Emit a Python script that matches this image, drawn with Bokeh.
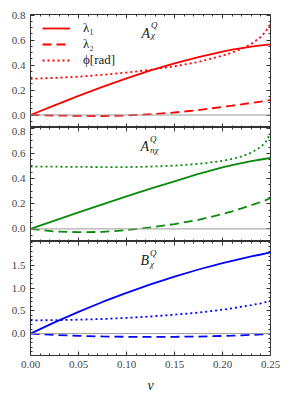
from bokeh.plotting import figure
from bokeh.layouts import column
from bokeh.models import Range1d, LinearAxis, FixedTicker, Span, Label, Legend, LegendItem
from bokeh.embed import file_html
from bokeh.resources import INLINE

# ---------------- data ----------------
nu = [0.0, 0.025, 0.05, 0.075, 0.1, 0.125, 0.15, 0.175, 0.2, 0.21, 0.22, 0.23, 0.24, 0.245, 0.25]

a_l1 = [0.0, 0.077, 0.153, 0.225, 0.293, 0.357, 0.413, 0.463, 0.508, 0.523, 0.536, 0.548, 0.557, 0.561, 0.565]
a_l2 = [0.0, -0.004, -0.007, -0.008, -0.004, 0.006, 0.02, 0.04, 0.065, 0.075, 0.086, 0.097, 0.108, 0.114, 0.12]
a_phi = [0.29, 0.297, 0.307, 0.322, 0.34, 0.362, 0.39, 0.425, 0.475, 0.50, 0.53, 0.57, 0.625, 0.67, 0.73]

an_l1 = [0.0, 0.066, 0.131, 0.195, 0.258, 0.32, 0.378, 0.436, 0.488, 0.506, 0.523, 0.538, 0.551, 0.557, 0.563]
an_l2 = [0.0, -0.02, -0.026, -0.024, -0.01, 0.012, 0.038, 0.072, 0.118, 0.14, 0.163, 0.188, 0.214, 0.228, 0.245]
an_phi = [0.495, 0.494, 0.492, 0.491, 0.491, 0.494, 0.502, 0.516, 0.54, 0.555, 0.575, 0.605, 0.65, 0.69, 0.76]

b_l1 = [0.0, 0.246, 0.478, 0.694, 0.894, 1.08, 1.25, 1.406, 1.546, 1.597, 1.646, 1.692, 1.735, 1.757, 1.78]
b_l2 = [0.0, -0.03, -0.05, -0.062, -0.07, -0.072, -0.07, -0.064, -0.052, -0.045, -0.037, -0.028, -0.017, -0.011, -0.005]
b_phi = [0.29, 0.295, 0.305, 0.32, 0.345, 0.375, 0.415, 0.46, 0.525, 0.555, 0.59, 0.625, 0.665, 0.69, 0.72]

x_ticks = [0.0, 0.05, 0.10, 0.15, 0.20, 0.25]
x_tick_labels = ["0.00", "0.05", "0.10", "0.15", "0.20", "0.25"]
x_minor = [i / 100 for i in range(0, 26)]

y_ticks_a = [0.0, 0.2, 0.4, 0.6, 0.8]
y_labels_a = ["0.0", "0.2", "0.4", "0.6", "0.8"]
y_minor_a = [-0.1, -0.05, 0.0, 0.05, 0.1, 0.15, 0.2, 0.25, 0.3, 0.35, 0.4, 0.45, 0.5, 0.55, 0.6, 0.65, 0.7, 0.75, 0.8]

y_ticks_b = [0.0, 0.5, 1.0, 1.5]
y_labels_b = ["0.0", "0.5", "1.0", "1.5"]
y_minor_b = [-0.4, -0.3, -0.2, -0.1, 0.0, 0.1, 0.2, 0.3, 0.4, 0.5, 0.6, 0.7, 0.8, 0.9, 1.0,
             1.1, 1.2, 1.3, 1.4, 1.5, 1.6, 1.7, 1.8, 1.9, 2.0]

RED, GREEN, BLUE = "#ff0000", "#0a8a0a", "#0000ff"
SERIF = "Liberation Serif"
TICK_COL = "#333333"
LAB_COL = "#444444"


def style_axis(ax, ticks, minor, labels=None, show=True):
    ax.ticker = FixedTicker(ticks=ticks, minor_ticks=minor)
    ax.major_tick_in = 4
    ax.major_tick_out = 0
    ax.minor_tick_in = 2
    ax.minor_tick_out = 0
    ax.axis_line_color = None
    ax.major_tick_line_color = TICK_COL
    ax.minor_tick_line_color = TICK_COL
    ax.major_tick_line_width = 1
    ax.minor_tick_line_width = 1
    if show:
        ax.major_label_text_font = SERIF
        ax.major_label_text_font_size = "11px"
        ax.major_label_text_color = LAB_COL
        ax.major_label_standoff = 5
        if labels is not None:
            ax.major_label_overrides = {t: l for t, l in zip(ticks, labels)}
    else:
        ax.major_label_text_font_size = "0px"
        ax.major_label_standoff = 0


def make_panel(frame_h, y0, y1, yt, yl, ym, top_b, bot_b, last):
    p = figure(frame_width=240, frame_height=frame_h,
               x_range=Range1d(0, 0.25), y_range=Range1d(y0, y1),
               output_backend="svg", toolbar_location=None,
               min_border_left=30, min_border_right=18,
               min_border_top=top_b, min_border_bottom=bot_b)
    p.grid.visible = False
    p.outline_line_color = "#333333"
    p.outline_line_width = 1
    p.background_fill_color = "white"
    p.border_fill_color = "white"
    style_axis(p.yaxis[0], yt, ym, yl, True)
    style_axis(p.xaxis[0], x_ticks, x_minor, x_tick_labels, last)
    if last:
        p.xaxis[0].axis_label = "ν"
        p.xaxis[0].axis_label_text_font = SERIF
        p.xaxis[0].axis_label_text_font_style = "italic"
        p.xaxis[0].axis_label_text_font_size = "14px"
        p.xaxis[0].axis_label_text_color = "#222222"
        p.xaxis[0].axis_label_standoff = 7
    top = LinearAxis()
    style_axis(top, x_ticks, x_minor, None, False)
    p.add_layout(top, "above")
    right = LinearAxis()
    style_axis(right, yt, ym, None, False)
    p.add_layout(right, "right")
    p.add_layout(Span(location=0, dimension="width", line_color="#999999", line_width=1))
    return p


def add_title(p, main, sub, xpos, ybase, ysup, ysub):
    p.add_layout(Label(x=xpos, y=ybase, text=main, text_font=SERIF, text_font_style="italic",
                       text_font_size="14px", text_color="#222222", text_baseline="alphabetic"))
    p.add_layout(Label(x=xpos + 0.0098, y=ysup, text="Q", text_font=SERIF, text_font_style="italic",
                       text_font_size="9px", text_color="#222222", text_baseline="alphabetic"))
    p.add_layout(Label(x=xpos + 0.0098, y=ysub, text=sub, text_font=SERIF, text_font_style="italic",
                       text_font_size="9px", text_color="#222222", text_baseline="alphabetic"))


LW = 1.8
DASH = "9 5"
DOT = "2 3"

# panel 1
p1 = make_panel(113, -0.1, 0.805, y_ticks_a, y_labels_a, y_minor_a, 14, 0, False)
r1 = p1.line(nu, a_l1, line_color=RED, line_width=LW)
r2 = p1.line(nu, a_l2, line_color=RED, line_width=LW, line_dash=DASH)
r3 = p1.line(nu, a_phi, line_color=RED, line_width=LW, line_dash=DOT)
legend = Legend(items=[LegendItem(label="λ₁", renderers=[r1]),
                       LegendItem(label="λ₂", renderers=[r2]),
                       LegendItem(label="ϕ[rad]", renderers=[r3])],
                location=(12, 59), border_line_color=None, background_fill_alpha=0,
                padding=0, margin=0, spacing=0, glyph_width=28, glyph_height=16,
                label_height=16, label_standoff=13, label_text_font=SERIF,
                label_text_font_size="13px", label_text_color="#222222")
p1.add_layout(legend)
add_title(p1, "A", "χ", 0.1156, 0.656, 0.72, 0.64)

# panel 2
p2 = make_panel(114, -0.1, 0.805, y_ticks_a, y_labels_a, y_minor_a, 0, 0, False)
p2.line(nu, an_l1, line_color=GREEN, line_width=LW)
p2.line(nu, an_l2, line_color=GREEN, line_width=LW, line_dash=DASH)
p2.line(nu, an_phi, line_color=GREEN, line_width=LW, line_dash=DOT)
add_title(p2, "A", "nχ", 0.1146, 0.652, 0.715, 0.628)

# panel 3
p3 = make_panel(114, -0.48, 2.02, y_ticks_b, y_labels_b, y_minor_b, 0, 42, True)
p3.line(nu, b_l1, line_color=BLUE, line_width=LW)
p3.line(nu, b_l2, line_color=BLUE, line_width=LW, line_dash=DASH)
p3.line(nu, b_phi, line_color=BLUE, line_width=LW, line_dash=DOT)
add_title(p3, "B", "χ", 0.1146, 1.593, 1.77, 1.53)

layout = column(p1, p2, p3, spacing=0)
open("out.html", "w").write(file_html(layout, INLINE))
